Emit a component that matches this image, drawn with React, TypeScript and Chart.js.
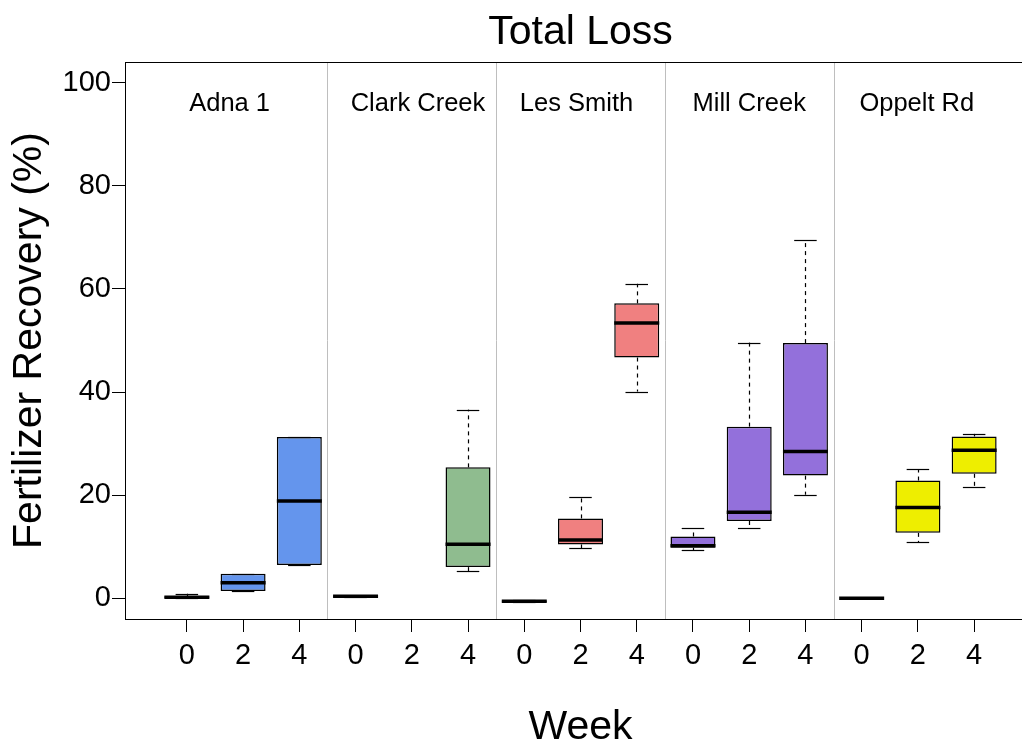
import React, { useEffect, useRef } from 'react';
import { Chart, registerables } from 'chart.js';

Chart.register(...registerables);

// ---- data ----
const sites = ['Adna 1', 'Clark Creek', 'Les Smith', 'Mill Creek', 'Oppelt Rd'];
const siteColors = ['#6495ED', '#8FBC8F', '#F08080', '#9370DB', '#EEEE00'];
const weekLabels = ['0', '2', '4'];

// one entry per box, site by site, weeks 0, 2, 4 (null = no data)
const whiskerMin = [0.0, 1.42, 6.45, 0.25, null, 5.3, -0.8, 9.75, 40.1, 9.36, 13.56, 20.1, 0.0, 10.85, 21.6];
const boxQ1 = [0.05, 1.42, 6.45, 0.3, null, 6.06, -0.7, 10.46, 46.7, 9.8, 15.0, 23.8, 0.0, 12.7, 24.15];
const boxMedian = [0.2, 3.04, 18.9, 0.4, null, 10.5, -0.55, 11.3, 53.4, 10.2, 16.7, 28.5, 0.0, 17.6, 28.7];
const boxQ3 = [0.4, 4.78, 31.3, 0.5, null, 25.4, -0.4, 15.5, 57.2, 12.0, 33.3, 49.5, 0.0, 22.85, 31.4];
const whiskerMax = [0.9, 4.78, 31.3, 0.55, null, 36.6, -0.3, 19.6, 61.0, 13.6, 49.6, 69.5, 0.0, 25.0, 31.9];

const yTickValues = [0, 20, 40, 60, 80, 100];

// annotation placement (data units)
const panelLabelX = [0.76, 4.11, 6.93, 10.0, 12.98];
const panelLabelY = 94.5;
const separatorX = [2.5, 5.5, 8.5, 11.5];

const FONT = '"Liberation Sans", Arial, Helvetica, sans-serif';

const boxPositions = whiskerMin.map((_, i) => i);
const tickLabels = sites.flatMap(() => weekLabels);

const extrasPlugin = {
  id: 'boxExtras',
  afterDatasetsDraw(chart: any) {
    const { ctx, chartArea } = chart;
    const x = chart.scales.x;
    const y = chart.scales.y;
    ctx.save();

    // panel separators
    ctx.strokeStyle = '#BEBEBE';
    ctx.lineWidth = 1;
    separatorX.forEach((p) => {
      const px = Math.round(x.getPixelForValue(p)) + 0.5;
      ctx.beginPath();
      ctx.moveTo(px, chartArea.top);
      ctx.lineTo(px, chartArea.bottom);
      ctx.stroke();
    });

    // whiskers, staples, medians
    boxPositions.forEach((i) => {
      if (boxMedian[i] === null) return;
      const cx = Math.round(x.getPixelForValue(i)) + 0.5;
      const yMin = y.getPixelForValue(whiskerMin[i]);
      const yQ1 = y.getPixelForValue(boxQ1[i]);
      const yQ3 = y.getPixelForValue(boxQ3[i]);
      const yMax = y.getPixelForValue(whiskerMax[i]);
      const yMed = y.getPixelForValue(boxMedian[i]);

      ctx.strokeStyle = '#000';
      ctx.lineWidth = 1.2;
      ctx.setLineDash([4, 4]);
      if (yMax < yQ3 - 1) {
        ctx.beginPath();
        ctx.moveTo(cx, yQ3);
        ctx.lineTo(cx, yMax);
        ctx.stroke();
      }
      if (yMin > yQ1 + 1) {
        ctx.beginPath();
        ctx.moveTo(cx, yQ1);
        ctx.lineTo(cx, yMin);
        ctx.stroke();
      }
      ctx.setLineDash([]);
      const capL = x.getPixelForValue(i - 0.2);
      const capR = x.getPixelForValue(i + 0.2);
      [yMin, yMax].forEach((yy) => {
        const py = Math.round(yy) + 0.5;
        ctx.beginPath();
        ctx.moveTo(capL, py);
        ctx.lineTo(capR, py);
        ctx.stroke();
      });
      ctx.lineWidth = 3.5;
      ctx.lineCap = 'butt';
      ctx.beginPath();
      ctx.moveTo(x.getPixelForValue(i - 0.4), yMed);
      ctx.lineTo(x.getPixelForValue(i + 0.4), yMed);
      ctx.stroke();
    });

    // panel labels
    ctx.fillStyle = '#000';
    ctx.font = `25.5px ${FONT}`;
    ctx.textAlign = 'center';
    ctx.textBaseline = 'alphabetic';
    sites.forEach((s, k) => {
      ctx.fillText(s, x.getPixelForValue(panelLabelX[k]), y.getPixelForValue(panelLabelY));
    });

    // frame
    ctx.strokeStyle = '#000';
    ctx.lineWidth = 1;
    ctx.strokeRect(
      Math.round(chartArea.left) + 0.5,
      Math.round(chartArea.top) + 0.5,
      chartArea.right - chartArea.left,
      Math.round(chartArea.bottom) - Math.round(chartArea.top)
    );
    ctx.restore();
  },
};

export default function App() {
  const canvasRef = useRef<HTMLCanvasElement | null>(null);

  useEffect(() => {
    if (!canvasRef.current) return;
    Chart.defaults.font.family = FONT;
    const chart = new Chart(canvasRef.current, {
      type: 'bar',
      data: {
        datasets: [
          {
            label: 'IQR',
            data: boxPositions.map((i) => ({
              x: i,
              y: boxQ1[i] === null ? null : [boxQ1[i], boxQ3[i]],
            })) as any,
            backgroundColor: boxPositions.map((i) => siteColors[Math.floor(i / 3)]),
            borderColor: '#000',
            borderWidth: 1.5,
            borderSkipped: false,
            barPercentage: 0.8,
            categoryPercentage: 1,
          },
        ],
      },
      options: {
        animation: false,
        responsive: false,
        devicePixelRatio: 1,
        events: [],
        layout: { padding: { left: 0, right: 4, top: 0, bottom: 0 } },
        plugins: {
          legend: { display: false },
          tooltip: { enabled: false },
          title: {
            display: true,
            text: 'Total Loss',
            color: '#000',
            font: { size: 41, weight: 'normal', family: FONT },
            padding: { top: 8, bottom: 4.8 },
            fullSize: false,
          },
        },
        scales: {
          x: {
            type: 'linear',
            min: -1.1,
            max: 15.1,
            offset: false,
            afterBuildTicks: (s: any) => {
              s.ticks = boxPositions.map((v) => ({ value: v }));
            },
            afterFit: (s: any) => {
              s.height = 125;
            },
            ticks: {
              autoSkip: false,
              maxRotation: 0,
              minRotation: 0,
              color: '#000',
              padding: 7,
              font: { size: 29, family: FONT },
              callback: (_v: any, idx: number) => tickLabels[idx],
            },
            grid: {
              display: true,
              offset: false,
              drawOnChartArea: false,
              drawTicks: true,
              tickLength: 13,
              color: '#000',
            },
            border: { display: false },
            title: {
              display: true,
              text: 'Week',
              color: '#000',
              font: { size: 41, family: FONT },
              padding: { top: 0, bottom: -8 },
            },
          },
          y: {
            type: 'linear',
            min: -4,
            max: 104,
            afterBuildTicks: (s: any) => {
              s.ticks = yTickValues.map((v) => ({ value: v }));
            },
            afterFit: (s: any) => {
              s.width = 125;
            },
            ticks: {
              color: '#000',
              padding: 1,
              font: { size: 29, family: FONT },
            },
            grid: {
              display: true,
              drawOnChartArea: false,
              drawTicks: true,
              tickLength: 13,
              color: '#000',
            },
            border: { display: false },
            title: {
              display: true,
              text: 'Fertilizer Recovery (%)',
              color: '#000',
              font: { size: 41, family: FONT },
              padding: { top: 5, bottom: 0 },
            },
          },
        },
      },
      plugins: [extrasPlugin],
    } as any);
    return () => chart.destroy();
  }, []);

  return (
    <div
      style={{
        position: 'fixed',
        left: 0,
        top: 0,
        width: 1022,
        height: 744,
        overflow: 'hidden',
        background: '#fff',
      }}
    >
      <canvas ref={canvasRef} width={1040} height={744} style={{ display: 'block' }} />
    </div>
  );
}
